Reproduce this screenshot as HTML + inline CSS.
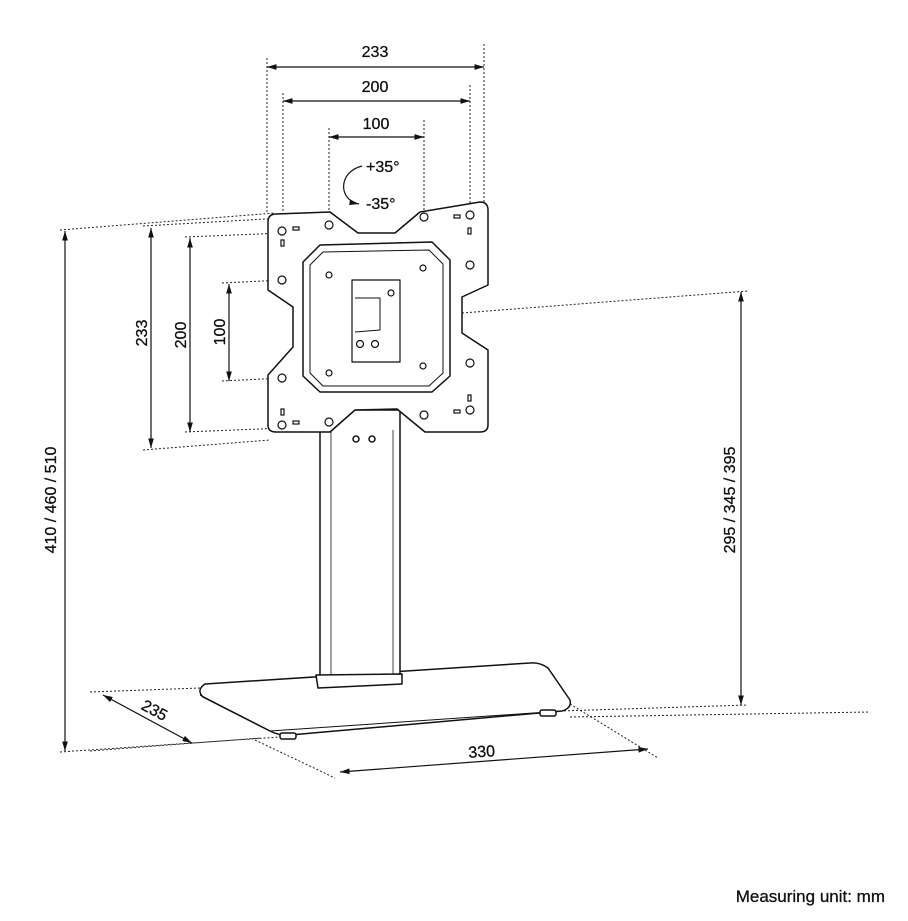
<!DOCTYPE html>
<html><head><meta charset="utf-8"><style>
html,body{margin:0;padding:0;background:#fff;}
svg{display:block;}
text{font-family:"Liberation Sans",sans-serif;fill:#111;}
</style></head><body>
<svg width="908" height="921" viewBox="0 0 908 921" xmlns="http://www.w3.org/2000/svg">
<defs>
<marker id="a" viewBox="0 0 10 10" refX="10" refY="5" markerWidth="8" markerHeight="8" orient="auto-start-reverse"><path d="M0,2 L10,5 L0,8 z" fill="#111"/></marker>
</defs>
<g stroke="#222" stroke-width="1" stroke-dasharray="2,2" fill="none">
<line x1="267" y1="58" x2="267" y2="213"/>
<line x1="484" y1="44" x2="484" y2="202"/>
<line x1="283" y1="93" x2="283" y2="230"/>
<line x1="470" y1="85" x2="470" y2="215"/>
<line x1="329" y1="128" x2="329" y2="215"/>
<line x1="424" y1="120" x2="424" y2="215"/>
<line x1="60" y1="230" x2="275" y2="213"/>
<line x1="143" y1="226" x2="283" y2="218"/>
<line x1="185" y1="237" x2="283" y2="233"/>
<line x1="222" y1="283" x2="283" y2="280"/>
<line x1="222" y1="381" x2="283" y2="378"/>
<line x1="185" y1="432" x2="283" y2="428"/>
<line x1="143" y1="450" x2="270" y2="440"/>
<line x1="462" y1="313" x2="748" y2="291"/>
<line x1="560" y1="711" x2="748" y2="705"/>
<line x1="60" y1="752" x2="280" y2="737"/>
<line x1="90" y1="692" x2="200" y2="688"/>
<line x1="90" y1="751" x2="260" y2="738"/>
<line x1="255" y1="740" x2="335" y2="778"/>
<line x1="570" y1="704" x2="658" y2="758"/>
<line x1="570" y1="717" x2="870" y2="712"/>
</g>
<g stroke="#111" stroke-width="1.2" fill="none">
<line x1="267" y1="67" x2="484" y2="67" marker-start="url(#a)" marker-end="url(#a)"/>
<line x1="283" y1="101" x2="470" y2="101" marker-start="url(#a)" marker-end="url(#a)"/>
<line x1="329" y1="137" x2="424" y2="137" marker-start="url(#a)" marker-end="url(#a)"/>
<line x1="151" y1="228" x2="151" y2="448" marker-start="url(#a)" marker-end="url(#a)"/>
<line x1="190" y1="238" x2="190" y2="432" marker-start="url(#a)" marker-end="url(#a)"/>
<line x1="229" y1="284" x2="229" y2="381" marker-start="url(#a)" marker-end="url(#a)"/>
<line x1="65" y1="231" x2="65" y2="751" marker-start="url(#a)" marker-end="url(#a)"/>
<line x1="741" y1="292" x2="741" y2="705" marker-start="url(#a)" marker-end="url(#a)"/>
<line x1="103" y1="695" x2="192" y2="743" marker-start="url(#a)" marker-end="url(#a)"/>
<line x1="340" y1="772" x2="648" y2="749" marker-start="url(#a)" marker-end="url(#a)"/>
<path d="M362,166 C338,172 338,200 359,204" marker-end="url(#a)"/>
</g>
<g font-size="16" stroke="#111" stroke-width="0.3">
<text x="375" y="57" text-anchor="middle">233</text>
<text x="375" y="92" text-anchor="middle">200</text>
<text x="376" y="129" text-anchor="middle">100</text>
<text x="366" y="172">+35°</text>
<text x="366" y="209">-35°</text>
<text transform="translate(147,333) rotate(-90)" text-anchor="middle">233</text>
<text transform="translate(186,335) rotate(-90)" text-anchor="middle">200</text>
<text transform="translate(225,332) rotate(-90)" text-anchor="middle">100</text>
<text transform="translate(56,500) rotate(-90)" text-anchor="middle">410 / 460 / 510</text>
<text transform="translate(735,500) rotate(-90)" text-anchor="middle">295 / 345 / 395</text>
<text transform="translate(152,715) rotate(28)" text-anchor="middle">235</text>
<text transform="translate(482,757) rotate(-4)" text-anchor="middle">330</text>
<text x="885" y="902" text-anchor="end" font-size="17">Measuring unit: mm</text>
</g>
<g stroke="#111" stroke-width="1.5" fill="#fff" stroke-linejoin="round">
<path d="M205,684 L530,663 Q540,662 548,668 L570,700 Q572,708 562,711 L290,735 Q280,736 270,731 L203,697 Q196,690 205,684 Z"/>
<path d="M200,695 L268,730 M270,731 L562,711" stroke-width="1"/>
<rect x="540" y="710" width="16" height="6" rx="2"/>
<rect x="280" y="733" width="16" height="6" rx="2"/>
<rect x="320" y="410" width="80" height="268"/>
<line x1="331" y1="430" x2="331" y2="678" stroke-width="0.8"/>
<line x1="393" y1="430" x2="393" y2="678" stroke-width="0.8"/>
<path d="M316,675 L402,674 L402,684 L318,688 Z"/>
<circle cx="356" cy="439" r="3"/><circle cx="372" cy="439" r="3"/>
<path d="M276,214 L330,212 L358,233 L395,233 L420,212 L480,202 Q488,202 488,210 L488,285 L462,297 L462,333 L488,350 L488,425 Q488,432 480,432 L425,432 L397,409 L355,410 L330,432 L276,432 Q268,432 268,425 L268,375 L293,347 L293,307 L268,290 L268,222 Q268,214 276,214 Z"/>
<path d="M320,245 L432,242 L450,260 L450,376 L432,392 L320,392 L303,376 L303,262 Z"/>
<path d="M323,252 L429,250 L443,264 L443,373 L429,386 L323,386 L310,373 L310,265 Z" stroke-width="1"/>
<rect x="352" y="280" width="48" height="82" stroke-width="1.2"/>
<path d="M355,298 L380,298 L380,330 L355,332" fill="none" stroke-width="1"/>
</g>
<g stroke="#111" stroke-width="1.2" fill="#fff">
<circle cx="282" cy="231" r="4"/><circle cx="329" cy="225" r="4"/><circle cx="424" cy="217" r="4"/><circle cx="470" cy="215" r="4"/>
<circle cx="282" cy="280" r="4"/><circle cx="470" cy="265" r="4"/>
<circle cx="282" cy="378" r="4"/><circle cx="470" cy="363" r="4"/>
<circle cx="282" cy="425" r="4"/><circle cx="329" cy="422" r="4"/><circle cx="424" cy="415" r="4"/><circle cx="470" cy="410" r="4"/>
<circle cx="329" cy="275" r="3"/><circle cx="423" cy="268" r="3"/><circle cx="329" cy="373" r="3"/><circle cx="423" cy="366" r="3"/>
<circle cx="360" cy="344" r="3.5"/><circle cx="375" cy="344" r="3.5"/><circle cx="391" cy="293" r="3"/>
<rect x="293" y="227" width="6" height="3"/><rect x="281" y="240" width="3" height="6"/>
<rect x="454" y="215" width="6" height="3"/><rect x="468" y="228" width="3" height="6"/>
<rect x="281" y="409" width="3" height="6"/><rect x="293" y="421" width="6" height="3"/>
<rect x="468" y="395" width="3" height="6"/><rect x="454" y="410" width="6" height="3"/>
</g>
</svg>
</body></html>
